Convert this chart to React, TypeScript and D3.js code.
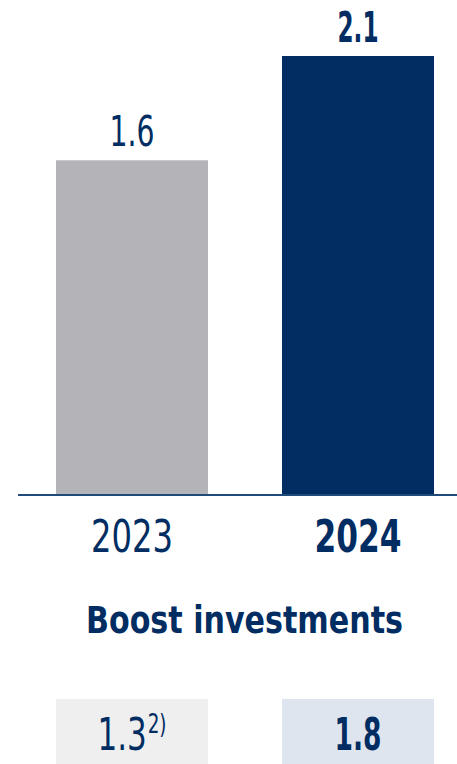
import React from "react";
import * as d3 from "d3";

const categories = ["2023", "2024"];
const values = [1.6, 2.1];
const valueLabels = ["1.6", "2.1"];
const footValues = ["1.3", "1.8"];
const footNotes = ["2)", ""];
const title = "Boost investments";

const W = 457;
const H = 764;
const NAVY = "#012d62";
const FONT = "'DejaVu Sans Condensed', 'DejaVu Sans', sans-serif";

// rendered text widths (style only)
const valueLabelW = [45, 41];
const catLabelW = [82, 87];
const footW = [42, 47];
const noteW = 26;

export default function App() {
  const xs = d3.scaleBand<string>().domain(categories).range([56, 434]).paddingInner(74 / 226).paddingOuter(0);
  const y = d3.scaleLinear().domain([0, 2.1]).range([494, 56]);
  const barFill = ["#b4b4b8", NAVY];
  const boxFill = ["#efefef", "#dfe5ee"];
  return (
    <svg width={W} height={H} style={{ position: "absolute", left: 0, top: 0, display: "block" }}>
      {categories.map((c, i) => {
        const bx = xs(c)!;
        const bw = xs.bandwidth();
        const cx = bx + bw / 2;
        const bold = i === 1;
        const fw = bold ? 700 : 400;
        const hasNote = !!footNotes[i];
        const totalFoot = footW[i] + (hasNote ? noteW + 1 : 0);
        const footStart = cx - totalFoot / 2;
        return (
          <g key={c}>
            <rect x={bx} y={y(values[i])} width={bw} height={y(0) - y(values[i])} fill={barFill[i]} />
            <text x={cx - valueLabelW[i] / 2} y={y(values[i]) - 14} fontFamily={FONT} fontSize={bold ? 42 : 43}
              fontWeight={fw} fill={NAVY} textLength={valueLabelW[i]} lengthAdjust="spacingAndGlyphs">{valueLabels[i]}</text>
            <text x={cx - catLabelW[i] / 2} y={552} fontFamily={FONT} fontSize={44}
              fontWeight={fw} fill={NAVY} textLength={catLabelW[i]} lengthAdjust="spacingAndGlyphs">{c}</text>
            <rect x={bx} y={699} width={bw} height={H - 699} fill={boxFill[i]} />
            <text x={footStart} y={750} fontFamily={FONT} fontSize={44}
              fontWeight={fw} fill={NAVY} textLength={totalFoot} lengthAdjust="spacingAndGlyphs">
              {footValues[i]}
              {hasNote ? (
                <tspan dx={1} dy={-17} fontSize={26} fontWeight={400}>{footNotes[i]}</tspan>
              ) : null}
            </text>
          </g>
        );
      })}
      <line x1={18} x2={W} y1={495} y2={495} stroke="#1f4a7a" strokeWidth={2} />
      <text x={86} y={633} fontFamily={FONT} fontSize={37} fontWeight={700} fill={NAVY}
        textLength={317} lengthAdjust="spacingAndGlyphs">
        {title}
      </text>
    </svg>
  );
}
